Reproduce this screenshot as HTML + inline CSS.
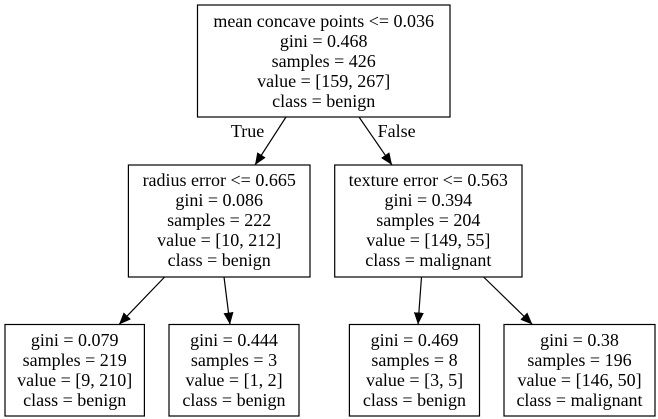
<!DOCTYPE html>
<html><head><meta charset="utf-8"><style>
html,body{margin:0;padding:0;background:#fff;}
svg{display:block;}
text{font-family:"Liberation Serif",serif;font-size:18px;fill:#000;}
</style></head><body>
<svg width="658" height="419" viewBox="0 0 658 419">
<defs><marker id="ah" viewBox="0 0 12 10" refX="12" refY="5" markerWidth="12" markerHeight="10" markerUnits="userSpaceOnUse" orient="auto"><path d="M0,0 L12,5 L0,10 z" fill="#000"/></marker></defs>
<g stroke="#000" stroke-width="1.2" fill="none">
<line x1="286" y1="117" x2="255" y2="165" marker-end="url(#ah)"/>
<line x1="359" y1="117" x2="392" y2="165" marker-end="url(#ah)"/>
<line x1="164.6" y1="277" x2="119" y2="324.5" marker-end="url(#ah)"/>
<line x1="224" y1="277" x2="230" y2="324.5" marker-end="url(#ah)"/>
<line x1="421.5" y1="277" x2="418" y2="324.5" marker-end="url(#ah)"/>
<line x1="483.6" y1="277" x2="532.4" y2="324.5" marker-end="url(#ah)"/>
</g>
<text x="247.6" y="137" text-anchor="middle">True</text>
<text x="396.6" y="137" text-anchor="middle">False</text>
<g stroke="#000" stroke-width="1.2" fill="#fff">
<rect x="197.5" y="5" width="252.5" height="112"/>
<rect x="128.4" y="165" width="181.6" height="112"/>
<rect x="334.7" y="165" width="187.3" height="112"/>
<rect x="5" y="324.5" width="139.4" height="91.5"/>
<rect x="169" y="324.5" width="130" height="91.5"/>
<rect x="349.4" y="324.5" width="130.1" height="91.5"/>
<rect x="504" y="324.5" width="151" height="91.5"/>
</g>
<g text-anchor="middle">
<text x="323.7" y="27">mean concave points &lt;= 0.036</text>
<text x="323.7" y="47">gini = 0.468</text>
<text x="323.7" y="67">samples = 426</text>
<text x="323.7" y="87">value = [159, 267]</text>
<text x="323.7" y="107">class = benign</text>
</g>
<g text-anchor="middle">
<text x="219.2" y="186">radius error &lt;= 0.665</text>
<text x="219.2" y="206">gini = 0.086</text>
<text x="219.2" y="226">samples = 222</text>
<text x="219.2" y="246">value = [10, 212]</text>
<text x="219.2" y="266">class = benign</text>
</g>
<g text-anchor="middle">
<text x="428.3" y="186">texture error &lt;= 0.563</text>
<text x="428.3" y="206">gini = 0.394</text>
<text x="428.3" y="226">samples = 204</text>
<text x="428.3" y="246">value = [149, 55]</text>
<text x="428.3" y="266">class = malignant</text>
</g>
<g text-anchor="middle">
<text x="74.7" y="346">gini = 0.079</text>
<text x="74.7" y="366">samples = 219</text>
<text x="74.7" y="386">value = [9, 210]</text>
<text x="74.7" y="406">class = benign</text>
</g>
<g text-anchor="middle">
<text x="234" y="346">gini = 0.444</text>
<text x="234" y="366">samples = 3</text>
<text x="234" y="386">value = [1, 2]</text>
<text x="234" y="406">class = benign</text>
</g>
<g text-anchor="middle">
<text x="414.5" y="346">gini = 0.469</text>
<text x="414.5" y="366">samples = 8</text>
<text x="414.5" y="386">value = [3, 5]</text>
<text x="414.5" y="406">class = benign</text>
</g>
<g text-anchor="middle">
<text x="579.5" y="346">gini = 0.38</text>
<text x="579.5" y="366">samples = 196</text>
<text x="579.5" y="386">value = [146, 50]</text>
<text x="579.5" y="406">class = malignant</text>
</g>
</svg>
</body></html>
